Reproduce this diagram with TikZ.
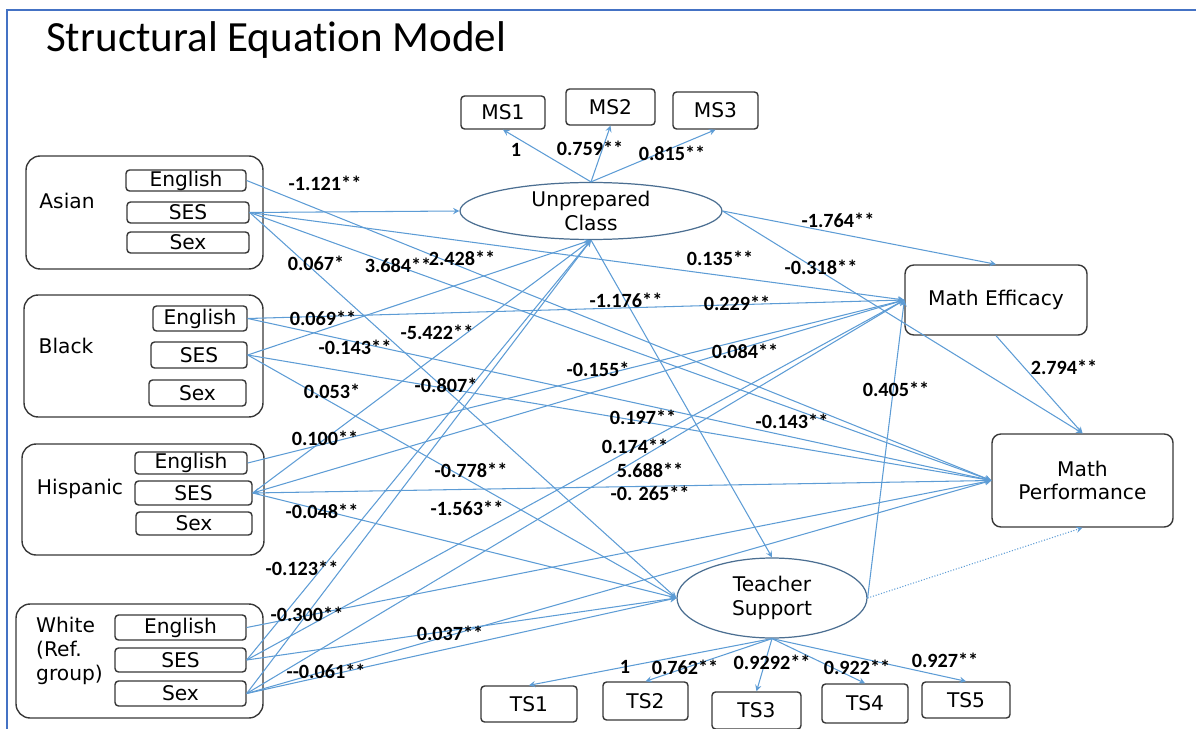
\documentclass[tikz,border=0pt]{standalone}
\usepackage{fontspec}
\setmainfont{DejaVu Sans}
\newfontfamily\calfont{Carlito}
\newfontfamily\titlefont{Carlito}[Ligatures=NoCommon]
\usetikzlibrary{shapes.geometric}

\definecolor{linkblue}{RGB}{93,156,213}
\definecolor{frameblue}{RGB}{68,114,196}
\definecolor{boxgray}{RGB}{55,55,55}
\definecolor{latblue}{RGB}{75,110,145}

\newcommand{\vfont}{\fontsize{11.5}{13.5}\selectfont}
\newcommand{\cfont}{\calfont\bfseries\fontsize{11.5}{13}\selectfont}

\begin{document}
\begin{tikzpicture}[x=0.02cm,y=-0.02cm,>=stealth,
  grp/.style={draw=boxgray,rounded corners=8pt,line width=0.8pt,inner sep=0pt},
  var/.style={draw=boxgray,rounded corners=2pt,line width=0.8pt,inner sep=0pt,font=\vfont},
  lat/.style={ellipse,draw=latblue,line width=0.7pt,inner sep=0pt,align=center,font=\vfont},
  reg/.style={->,draw=linkblue,line width=0.6pt},
  coef/.style={font=\cfont,inner sep=0pt}]
  \useasboundingbox (0,0) rectangle (1196,729);
  \draw[frameblue,line width=1.2pt] (1196,10) -- (7,10) -- (7,729);
  \node[anchor=west,font=\titlefont\fontsize{24.5}{28}\selectfont] (title) at (40,40) {Structural Equation Model};

  % covariate groups
  \node[grp,minimum width=4.74cm,minimum height=2.26cm] (asian) at (144.5,212.5) {};
  \node[font=\vfont] (asianlab) at (67,201) {Asian};
  \node[var,minimum width=2.4cm,minimum height=0.42cm] (aeng) at (186,180.5) {English};
  \node[var,minimum width=2.44cm,minimum height=0.42cm] (ases) at (188,212.5) {SES};
  \node[var,minimum width=2.44cm,minimum height=0.42cm] (asex) at (188,242.5) {Sex};

  \node[grp,minimum width=4.78cm,minimum height=2.44cm] (black) at (143.5,356) {};
  \node[font=\vfont] (blacklab) at (66,346) {Black};
  \node[var,minimum width=1.88cm,minimum height=0.5cm] (beng) at (200,318.5) {English};
  \node[var,minimum width=1.92cm,minimum height=0.52cm] (bses) at (199,355) {SES};
  \node[var,minimum width=1.94cm,minimum height=0.52cm] (bsex) at (197.5,393) {Sex};

  \node[grp,minimum width=4.84cm,minimum height=2.22cm] (hisp) at (143,499.5) {};
  \node[font=\vfont] (hisplab) at (80,489) {Hispanic};
  \node[var,minimum width=2.24cm,minimum height=0.44cm] (heng) at (191,463) {English};
  \node[var,minimum width=2.34cm,minimum height=0.48cm] (hses) at (193.5,493) {SES};
  \node[var,minimum width=2.32cm,minimum height=0.46cm] (hsex) at (194,523.5) {Sex};

  \node[grp,minimum width=4.94cm,minimum height=2.28cm] (white) at (139.5,661) {};
  \node[font=\vfont,align=left,anchor=west] (whitelab) at (30,651) {White\\(Ref.\\group)};
  \node[var,minimum width=2.62cm,minimum height=0.5cm] (weng) at (180.5,627.5) {English};
  \node[var,minimum width=2.62cm,minimum height=0.48cm] (wses) at (180.5,660) {SES};
  \node[var,minimum width=2.62cm,minimum height=0.5cm] (wsex) at (180.5,693.5) {Sex};

  % latent factors and outcomes
  \node[lat,minimum width=5.24cm,minimum height=1.14cm] (uc) at (591,211) {Unprepared\\Class};
  \node[lat,minimum width=3.8cm,minimum height=1.6cm] (ts) at (772,598) {Teacher\\Support};
  \node[var,minimum width=3.64cm,minimum height=1.4cm,rounded corners=5pt] (me) at (996,300) {Math Efficacy};
  \node[var,minimum width=3.62cm,minimum height=1.86cm,rounded corners=5pt,align=center] (mp) at (1082.5,480.5) {Math\\Performance};

  \node[var,minimum width=1.68cm,minimum height=0.66cm] (ms1) at (503,112.5) {MS1};
  \node[var,minimum width=1.78cm,minimum height=0.72cm] (ms2) at (610.5,107) {MS2};
  \node[var,minimum width=1.7cm,minimum height=0.74cm] (ms3) at (715.5,110.5) {MS3};
  \node[var,minimum width=1.92cm,minimum height=0.72cm] (ts1) at (529,704) {TS1};
  \node[var,minimum width=1.7cm,minimum height=0.76cm] (ts2) at (645.5,701) {TS2};
  \node[var,minimum width=1.78cm,minimum height=0.74cm] (ts3) at (756.5,710.5) {TS3};
  \node[var,minimum width=1.72cm,minimum height=0.78cm] (ts4) at (865,703.5) {TS4};
  \node[var,minimum width=1.76cm,minimum height=0.72cm] (ts5) at (966,700) {TS5};

  % measurement paths
  \foreach \m in {ms1,ms2,ms3} \draw[reg] (uc.north) -- (\m.south);
  \foreach \t in {ts1,ts2,ts3,ts4,ts5} \draw[reg] (ts.south) -- (\t.north);

  % structural paths
  \draw[reg] (uc.east) -- (me.north);
  \draw[reg] (uc.east) -- (mp.north);
  \draw[reg] (uc.south) -- (ts.north);
  \draw[reg] (me.south) -- (mp.north);
  \draw[reg] (ts.east) -- (me.west);
  \draw[reg,densely dotted] (ts.east) -- (mp.south);

  % covariate paths
  \draw[reg] (aeng.east) -- (mp.west);
  \foreach \y in {uc.west,me.west,mp.west,ts.west} \draw[reg] (ases.east) -- (\y);
  \foreach \y in {me.west,mp.west} \draw[reg] (beng.east) -- (\y);
  \foreach \y in {uc.south,mp.west,ts.west} \draw[reg] (bses.east) -- (\y);
  \draw[reg] (heng.east) -- (me.west);
  \draw[reg,<-] (hses.east) -- (me.west);
  \foreach \y in {uc.south,mp.west,ts.west} \draw[reg] (hses.east) -- (\y);
  \draw[reg] (weng.east) -- (mp.west);
  \foreach \y in {uc.south,me.west,ts.west} \draw[reg] (wses.east) -- (\y);
  \foreach \y in {uc.south,me.west,mp.west,ts.west} \draw[reg] (wsex.east) -- (\y);

  % estimates
  \foreach \x/\y/\t [count=\i] in {516/150/1, 590/148/0.759**, 672/153/0.815**,
      325/183/-1.121**, 838/220/-1.764**, 720/258/0.135**, 821/267/-0.318**,
      316/263/0.067*, 398/265/3.684**, 462/258/2.428**, 626/300/-1.176**,
      737/303/0.229**, 323/318/0.069**, 437/332/-5.422**, 355/347/-0.143**,
      745/351/0.084**, 598/369/-0.155*, 332/391/0.053*, 446/385/-0.807*,
      896/389/0.405**, 1064/367/2.794**, 643/417/0.197**, 792/421/-0.143**,
      325/438/0.100**, 635/446/0.174**, 650/470/5.688**, 650/493/{-0. 265**},
      471/470/-0.778**, 467/508/-1.563**, 322/511/-0.048**, 302/568/-0.123**,
      307/614/-0.300**, 450/633/0.037**, 326/671/{{-}{-}0.061**},
      625/667/1, 685/667/0.762**, 772/662/0.9292**, 857/667/0.922**, 945/660/0.927**}
    \node[coef] (c\i) at (\x,\y) {\t};
\end{tikzpicture}
\end{document}
